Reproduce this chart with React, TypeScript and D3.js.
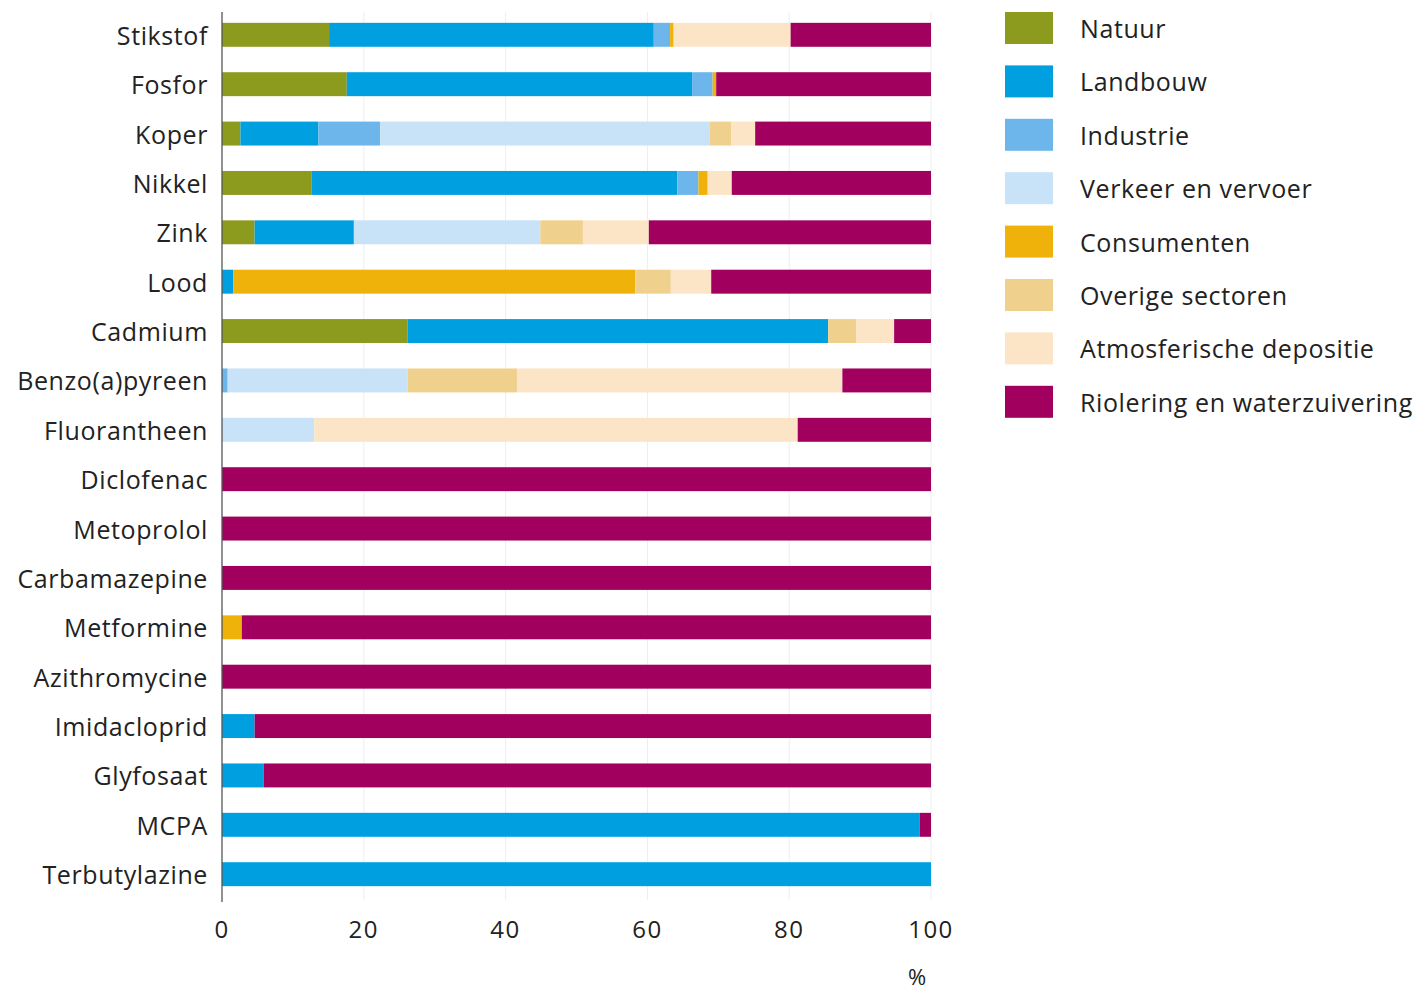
import React from "react";
import * as d3 from "d3";

const categories = [
  "Stikstof", "Fosfor", "Koper", "Nikkel", "Zink", "Lood", "Cadmium",
  "Benzo(a)pyreen", "Fluorantheen", "Diclofenac", "Metoprolol", "Carbamazepine",
  "Metformine", "Azithromycine", "Imidacloprid", "Glyfosaat", "MCPA", "Terbutylazine",
];

const seriesNames = [
  "Natuur", "Landbouw", "Industrie", "Verkeer en vervoer", "Consumenten",
  "Overige sectoren", "Atmosferische depositie", "Riolering en waterzuivering",
];

const natuur = [15.1, 17.6, 2.6, 12.6, 4.6, 0, 26.2, 0, 0, 0, 0, 0, 0, 0, 0, 0, 0, 0];
const landbouw = [45.8, 48.7, 11, 51.6, 14, 1.6, 59.3, 0, 0, 0, 0, 0, 0, 0, 4.6, 5.9, 98.4, 100];
const industrie = [2.3, 2.9, 8.7, 3, 0, 0, 0, 0.8, 0, 0, 0, 0, 0, 0, 0, 0, 0, 0];
const verkeer = [0, 0, 46.5, 0, 26.3, 0, 0, 25.4, 13, 0, 0, 0, 0, 0, 0, 0, 0, 0];
const consumenten = [0.5, 0.5, 0, 1.3, 0, 56.7, 0, 0, 0, 0, 0, 0, 2.8, 0, 0, 0, 0, 0];
const overige = [0, 0, 3, 0, 6, 5, 4, 15.4, 0, 0, 0, 0, 0, 0, 0, 0, 0, 0];
const atmosferisch = [16.5, 0, 3.4, 3.4, 9.3, 5.7, 5.3, 45.9, 68.2, 0, 0, 0, 0, 0, 0, 0, 0, 0];
const riolering = [19.8, 30.3, 24.8, 28.1, 39.8, 31, 5.2, 12.5, 18.8, 100, 100, 100, 97.2, 100, 95.4, 94.1, 1.6, 0];

const seriesValues = [natuur, landbouw, industrie, verkeer, consumenten, overige, atmosferisch, riolering];
const colors = ["#8c9a1e", "#00a0e0", "#6db6ec", "#c8e3f7", "#efb20a", "#efd08c", "#fbe5c6", "#a1005f"];
const xTicks = [0, 20, 40, 60, 80, 100];

const FONT = "'Open Sans', 'Noto Sans', sans-serif";

export default function App() {
  const width = 1427;
  const height = 993;
  const x = d3.scaleLinear().domain([0, 100]).range([222, 931]);
  const y = d3.scaleBand().domain(categories).range([10, 899]).paddingInner(0.515).paddingOuter(0.26);

  const table = categories.map((c, i) => {
    const row: any = { cat: c };
    seriesNames.forEach((s, j) => (row[s] = seriesValues[j][i]));
    return row;
  });
  const stack = d3.stack<any>().keys(seriesNames)(table);

  return (
    <svg width={width} height={height} style={{ display: "block", position: "absolute", left: 0, top: 0 }}>
      <rect width={width} height={height} fill="#ffffff" />
      {xTicks.slice(1).map((t) => (
        <line key={t} x1={x(t)} x2={x(t)} y1={12} y2={900} stroke="#eeeeee" strokeWidth={1} />
      ))}
      {stack.map((layer, j) => (
        <g key={seriesNames[j]} fill={colors[j]}>
          {layer.map((d, i) => {
            const w = x(d[1]) - x(d[0]);
            if (w <= 0) return null;
            return (
              <rect key={i} x={x(d[0])} y={y(categories[i])} width={w} height={y.bandwidth()} />
            );
          })}
        </g>
      ))}
      <line x1={222} x2={222} y1={12} y2={902} stroke="#555" strokeWidth={1.3} />
      {categories.map((c) => (
        <text key={c} x={208} y={(y(c) as number) + y.bandwidth() / 2} textAnchor="end"
          dominantBaseline="central" fontFamily={FONT} fontSize={25} letterSpacing={0.6} fill="#222">{c}</text>
      ))}
      {xTicks.map((t) => (
        <text key={t} x={x(t)} y={928} textAnchor="middle" dominantBaseline="central"
          fontFamily={FONT} fontSize={24} letterSpacing={1.5} fill="#222">{t}</text>
      ))}
      <text x={917} y={976} textAnchor="middle" dominantBaseline="central" fontFamily={FONT} fontSize={22} fill="#222">%</text>
      {seriesNames.map((s, j) => {
        const cy = 28 + j * 53.4;
        return (
          <g key={s}>
            <rect x={1005} y={cy - 16} width={48} height={32} fill={colors[j]} />
            <text x={1080} y={cy} dominantBaseline="central" fontFamily={FONT} fontSize={25} letterSpacing={0.6} fill="#222">{s}</text>
          </g>
        );
      })}
    </svg>
  );
}
